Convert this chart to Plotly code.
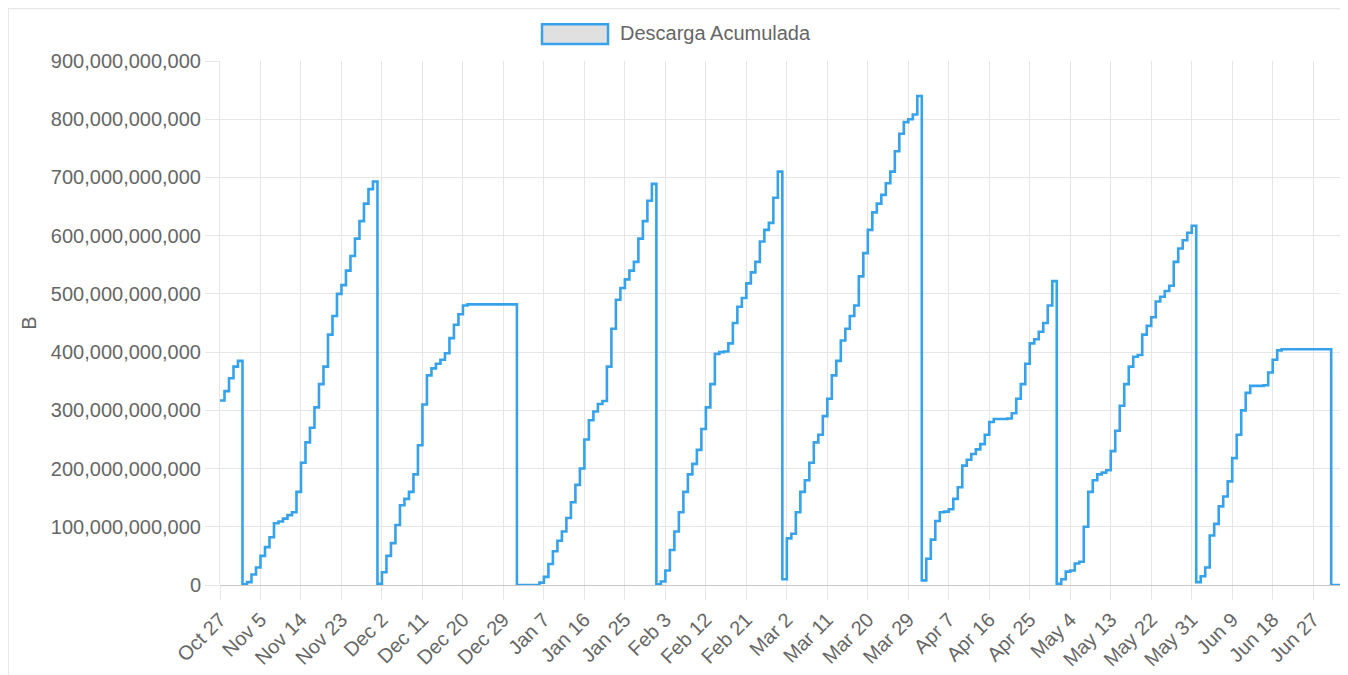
import pandas as pd
import plotly.graph_objects as go

# Daily accumulated download (GB); the counter resets each month
oct_gb = [317, 333, 355, 375, 385]
nov_gb = [1, 5, 18, 30, 50, 65, 82, 106, 109, 114, 120, 125, 160, 210, 245, 270, 305, 345,
          375, 430, 462, 500, 515, 540, 565, 595, 625, 655, 680, 693]
dic_gb = [2, 22, 50, 72, 103, 137, 148, 160, 190, 240, 310, 360, 372, 380, 387, 398, 424,
          447, 465, 480, 482, 482, 482, 482, 482, 482, 482, 482, 482, 482, 482]
ene_gb = [0, 0, 0, 0, 0, 4, 14, 36, 58, 76, 92, 115, 142, 172, 200, 250, 283, 298, 311, 316,
          375, 440, 490, 510, 525, 540, 555, 595, 625, 660, 689]
feb_gb = [1, 6, 25, 60, 92, 125, 160, 190, 208, 232, 268, 305, 345, 397, 400, 401, 415, 450,
          478, 493, 518, 537, 555, 590, 610, 622, 665, 710]
mar_gb = [10, 80, 88, 125, 160, 180, 210, 245, 258, 290, 320, 360, 385, 420, 440, 462, 480,
          530, 570, 610, 640, 655, 670, 690, 710, 745, 775, 795, 800, 808, 840]
abr_gb = [8, 45, 78, 110, 125, 126, 130, 148, 168, 205, 215, 225, 233, 242, 258, 280, 285,
          285, 285, 286, 295, 320, 345, 380, 415, 422, 435, 450, 480, 522]
may_gb = [2, 10, 23, 25, 37, 40, 100, 160, 180, 190, 193, 197, 230, 265, 308, 345, 375, 392,
          395, 430, 445, 460, 487, 495, 505, 514, 555, 578, 592, 605, 617]
jun_gb = [5, 15, 30, 85, 105, 135, 152, 178, 218, 258, 300, 330, 342, 342, 342, 343, 365, 387,
          403, 405, 405, 405, 405, 405, 405, 405, 405, 405, 405, 405]
jul_gb = [0, 0, 0, 0]

fecha_inicio = "2018-10-27"
fecha_fin = "2019-07-03 15:00"

tick_fechas = ["2018-10-27", "2018-11-05", "2018-11-14", "2018-11-23", "2018-12-02",
               "2018-12-11", "2018-12-20", "2018-12-29", "2019-01-07", "2019-01-16",
               "2019-01-25", "2019-02-03", "2019-02-12", "2019-02-21", "2019-03-02",
               "2019-03-11", "2019-03-20", "2019-03-29", "2019-04-07", "2019-04-16",
               "2019-04-25", "2019-05-04", "2019-05-13", "2019-05-22", "2019-05-31",
               "2019-06-09", "2019-06-18", "2019-06-27"]
tick_textos = ["Oct 27", "Nov 5", "Nov 14", "Nov 23", "Dec 2", "Dec 11", "Dec 20", "Dec 29",
               "Jan 7", "Jan 16", "Jan 25", "Feb 3", "Feb 12", "Feb 21", "Mar 2", "Mar 11",
               "Mar 20", "Mar 29", "Apr 7", "Apr 16", "Apr 25", "May 4", "May 13", "May 22",
               "May 31", "Jun 9", "Jun 18", "Jun 27"]

valores_gb = oct_gb + nov_gb + dic_gb + ene_gb + feb_gb + mar_gb + abr_gb + may_gb + jun_gb + jul_gb
fechas = list(pd.date_range(fecha_inicio, "2019-07-03", freq="D")) + [pd.Timestamp(fecha_fin)]
valores = [v * 1e9 for v in valores_gb]

# page body has an 8px margin, so figure coords = page coords - 8
OFF = 8
W, H = 1340, 667
L, R, T, B = 212, 5, 53, 88
pw, ph = W - L - R, H - T - B


def px(x):  # page pixel -> paper
    return (x - OFF - L) / pw


def py(y):
    return (H - B - (y - OFF)) / ph


fig = go.Figure()
fig.add_trace(go.Scatter(
    x=fechas, y=valores, mode="lines", line=dict(color="#36a2eb", width=2.6, shape="hv"),
    name="Descarga Acumulada", showlegend=False,
))

grid = "#e6e6e6"
font_col = "#666666"
fnt = "Liberation Sans, Arial, Helvetica, sans-serif"
fs = 20

fig.update_layout(
    width=W, height=H,
    margin=dict(l=L, r=R, t=T, b=B),
    paper_bgcolor="white", plot_bgcolor="white",
    font=dict(family=fnt, size=fs, color=font_col),
    showlegend=False,
    xaxis=dict(
        type="date", range=[fecha_inicio, fecha_fin],
        tickvals=tick_fechas, ticktext=tick_textos, tickangle=-45,
        showgrid=True, gridcolor=grid, gridwidth=1,
        ticks="outside", ticklen=14, tickcolor=grid, tickwidth=1,
        showline=False, zeroline=False,
        tickfont=dict(size=fs, color=font_col),
    ),
    yaxis=dict(
        range=[0, 9e11], dtick=1e11, tickformat=",",
        showgrid=True, gridcolor=grid, gridwidth=1,
        ticks="outside", ticklen=14, tickcolor=grid, tickwidth=1,
        zeroline=True, zerolinecolor="#c8c8c8", zerolinewidth=1,
        showline=True, linecolor=grid, linewidth=1,
        title=dict(text="B", font=dict(size=fs, color=font_col), standoff=8),
        tickfont=dict(size=fs, color=font_col),
    ),
    shapes=[
        dict(type="rect", xref="paper", yref="paper", x0=px(8), x1=px(1344), y0=py(690), y1=py(8),
             line=dict(color="#e8e8e8", width=2), fillcolor="rgba(0,0,0,0)", layer="below"),
        dict(type="rect", xref="paper", yref="paper", x0=px(542), x1=px(608), y0=py(44), y1=py(24),
             line=dict(color="#36a2eb", width=2.5), fillcolor="#e0e0e0", layer="above"),
    ],
    annotations=[
        dict(text="Descarga Acumulada", xref="paper", yref="paper", x=px(618), y=py(33),
             xanchor="left", yanchor="middle", showarrow=False,
             font=dict(size=fs, color=font_col, family=fnt)),
    ],
)

fig.write_html("out.html")
